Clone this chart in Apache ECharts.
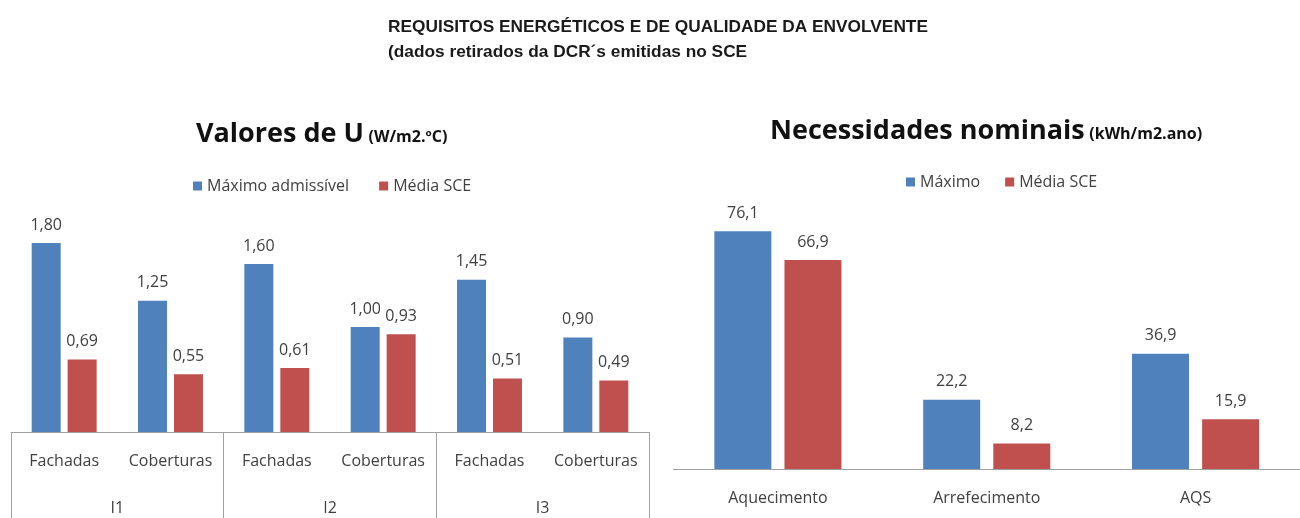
<!DOCTYPE html>
<html>
<head>
<meta charset="utf-8">
<script src="https://cdn.jsdelivr.net/npm/echarts@6/dist/echarts.min.js"></script>
<style>
  html, body { margin: 0; padding: 0; background: #ffffff; }
  #chart { width: 1300px; height: 518px; }
</style>
</head>
<body>
<div id="chart"></div>
<script>
// U-values of the building envelope by climate zone
const uCategories = ['Fachadas', 'Coberturas', 'Fachadas', 'Coberturas', 'Fachadas', 'Coberturas'];
const uZones = ['I1', 'I2', 'I3'];
const uMaxAdmissivel = [1.80, 1.25, 1.60, 1.00, 1.45, 0.90];
const uMediaSCE = [0.69, 0.55, 0.61, 0.93, 0.51, 0.49];

// Nominal energy needs
const nCategories = ['Aquecimento', 'Arrefecimento', 'AQS'];
const nMaximo = [76.1, 22.2, 36.9];
const nMediaSCE = [66.9, 8.2, 15.9];

const BLUE = '#4F81BD';
const RED = '#C0504D';
const TXT = '#404040';
const LINE = '#A0A0A0';
const FONT = '"Open Sans", Lato, sans-serif';
const FS = 16;

const comma = (d) => (p) => p.value.toFixed(d).replace('.', ',');
const barLabel = (d) => ({
  show: true, position: 'top', distance: 10, formatter: comma(d),
  fontFamily: FONT, fontSize: FS, color: TXT
});

const chart = echarts.init(document.getElementById('chart'), null, { renderer: 'canvas' });

chart.setOption({
  backgroundColor: '#ffffff',
  animation: false,
  textStyle: { fontFamily: FONT },
  title: [
    {
      text: 'REQUISITOS ENERGÉTICOS E DE QUALIDADE DA ENVOLVENTE\n(dados retirados da DCR´s emitidas no SCE',
      left: 383, top: 10, padding: 5,
      textStyle: {
        fontFamily: '"Liberation Sans", Arial, sans-serif',
        fontWeight: 'bold', fontSize: 17.3, lineHeight: 25, color: '#1a1a1a'
      }
    },
    {
      text: '{a|Valores de U} {b|(W/m2.ºC)}',
      left: 191, top: 116,
      textStyle: {
        rich: {
          a: { fontFamily: FONT, fontWeight: 'bold', fontSize: 27, color: '#111111' },
          b: { fontFamily: FONT, fontWeight: 'bold', fontSize: 16, color: '#111111', padding: [6, 0, 0, 0] }
        }
      }
    },
    {
      text: '{a|Necessidades nominais} {b|(kWh/m2.ano)}',
      left: 765, top: 113,
      textStyle: {
        rich: {
          a: { fontFamily: FONT, fontWeight: 'bold', fontSize: 27, color: '#111111' },
          b: { fontFamily: FONT, fontWeight: 'bold', fontSize: 16, color: '#111111', padding: [6, 0, 0, 0] }
        }
      }
    }
  ],
  legend: [
    {
      data: ['Máximo admissível', 'Média SCE'],
      left: 188, top: 173,
      itemWidth: 9, itemHeight: 9, itemGap: 30,
      icon: 'rect',
      textStyle: { fontFamily: FONT, fontSize: FS, color: TXT }
    },
    {
      data: ['Máximo', 'Média SCE '],
      left: 901, top: 169,
      itemWidth: 9, itemHeight: 9, itemGap: 25,
      icon: 'rect',
      textStyle: { fontFamily: FONT, fontSize: FS, color: TXT }
    }
  ],
  grid: [
    { left: 11, right: 651, top: 222, bottom: 86 },
    { left: 673.5, right: -7.5, top: 219, bottom: 49 }
  ],
  xAxis: [
    {
      type: 'category', gridIndex: 0, data: uCategories, position: 'bottom',
      axisLine: { show: true, lineStyle: { color: LINE, width: 1 } },
      axisTick: { show: false },
      axisLabel: { margin: 21, fontFamily: FONT, fontSize: FS, color: TXT, interval: 0 }
    },
    {
      type: 'category', gridIndex: 0, data: uZones, position: 'bottom',
      axisLine: { show: false },
      axisTick: { show: true, length: 90, interval: 0, lineStyle: { color: LINE, width: 1 } },
      axisLabel: { margin: 68, fontFamily: FONT, fontSize: FS, color: TXT, interval: 0 }
    },
    {
      type: 'category', gridIndex: 1, data: nCategories, position: 'bottom',
      axisLine: { show: true, lineStyle: { color: LINE, width: 1 } },
      axisTick: { show: false },
      axisLabel: { margin: 21, fontFamily: FONT, fontSize: FS, color: TXT, interval: 0 }
    }
  ],
  yAxis: [
    { type: 'value', gridIndex: 0, min: 0, max: 2, show: false },
    { type: 'value', gridIndex: 1, min: 0, max: 80, show: false }
  ],
  series: [
    {
      name: 'Máximo admissível', type: 'bar', xAxisIndex: 0, yAxisIndex: 0,
      data: uMaxAdmissivel, barWidth: 29, barGap: '24%',
      itemStyle: { color: BLUE }, label: barLabel(2)
    },
    {
      name: 'Média SCE', type: 'bar', xAxisIndex: 0, yAxisIndex: 0,
      data: uMediaSCE, barWidth: 29, barGap: '24%',
      itemStyle: { color: RED }, label: barLabel(2)
    },
    {
      name: 'Máximo', type: 'bar', xAxisIndex: 2, yAxisIndex: 1,
      data: nMaximo, barWidth: 57, barGap: '23%',
      itemStyle: { color: BLUE }, label: barLabel(1)
    },
    {
      name: 'Média SCE ', type: 'bar', xAxisIndex: 2, yAxisIndex: 1,
      data: nMediaSCE, barWidth: 57, barGap: '23%',
      itemStyle: { color: RED }, label: barLabel(1)
    }
  ]
});
</script>
</body>
</html>
